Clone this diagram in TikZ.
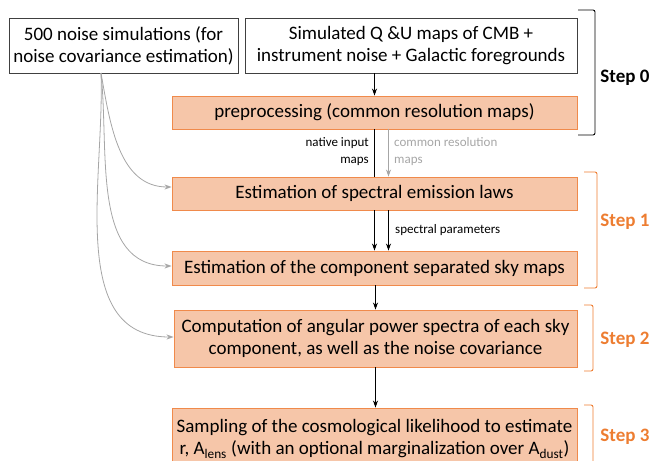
\documentclass[tikz,border=0pt]{standalone}
\usepackage{fontspec}
\setmainfont{Carlito}
\usetikzlibrary{calc}
\usetikzlibrary{arrows, arrows.meta}

\definecolor{boxfill}{HTML}{F6C6A9}
\definecolor{boxline}{HTML}{F08A4B}
\definecolor{steporange}{HTML}{ED7D31}
\definecolor{softgray}{HTML}{A6A6A6}

\tikzset{
	plainbox/.style={draw=black!75, line width=0.9pt, inner sep=0pt, align=center,
		font=\fontsize{19}{22}\selectfont},
	orangebox/.style={draw=boxline, fill=boxfill, line width=0.9pt, inner sep=0pt, align=center,
		font=\fontsize{19}{22}\selectfont},
	smalllabel/.style={font=\fontsize{13}{17}\selectfont, inner sep=0pt},
	steplabel/.style={font=\fontsize{19}{20}\selectfont\bfseries, inner sep=0pt},
	arr/.style={-{Stealth[length=7pt,width=5pt]}, line width=0.8pt},
}

\begin{document}
\begin{tikzpicture}[x=1pt, y=-1pt]
	\useasboundingbox (0,0) rectangle (654,461);
	
	%input boxes
	\node[plainbox, minimum width=229, minimum height=55] (noise) at (123.5,45.5)
		{500 noise simulations (for\\noise covariance estimation)};
	\node[plainbox, minimum width=332, minimum height=55] (sims) at (411,45.5)
		{Simulated Q \&U maps of CMB +\\instrument noise + Galactic foregrounds};
	
	%pipeline boxes
	\node[orangebox, minimum width=405, minimum height=33] (prep) at (374.5,112.5)
		{preprocessing (common resolution maps)};
	\node[orangebox, minimum width=405, minimum height=33] (laws) at (374.5,193.5)
		{Estimation of spectral emission laws};
	\node[orangebox, minimum width=405, minimum height=34] (sky) at (374.5,268)
		{Estimation of the component separated sky maps};
	\node[orangebox, minimum width=403, minimum height=57] (spectra) at (375.5,338.5)
		{Computation of angular power spectra of each sky\\component, as well as the noise covariance};
	\node[orangebox, minimum width=405, minimum height=62] (like) at (374.5,439)
		{Sampling of the cosmological likelihood to estimate\\r, A\textsubscript{lens} (with an optional marginalization over A\textsubscript{dust})};
	
	%vertical arrows
	\draw[arr] (prep.north |- sims.south) -- (prep.north);
	\draw[line width=0.8pt] (prep.south) -- (laws.north);
	\draw[arr, softgray] ([xshift=14]prep.south) -- ([xshift=14]laws.north);
	\draw[arr] (laws.south) -- (sky.north);
	\draw[arr] ([xshift=14]laws.south) -- ([xshift=14]sky.north);
	\draw[arr] (sky.south -| spectra.north) -- (spectra.north);
	\draw[arr] (spectra.south) -- (spectra.south |- like.north);
	
	%labels on arrows
	\node[smalllabel, anchor=east, align=right] (native) at (369,152) {native input\\maps};
	\node[smalllabel, anchor=west, align=left, text=softgray] (common) at (394,152) {common resolution\\maps};
	\node[smalllabel, anchor=west] (params) at (395,230) {spectral parameters};
	
	%noise curves
	\coordinate (start) at (101,73);
	\draw[arr, softgray] (start) to[out=-80, in=180] (laws.west |- 0,187);
	\draw[arr, softgray] (start) to[out=-84, in=180] (sky.west |- 0,266);
	\draw[arr, softgray] (start) to[out=-88, in=180] (spectra.west |- 0,337);
	
	%brackets
	\draw[line width=0.9pt, rounded corners=2pt] (578,10) -- (595,10) -- (595,135) -- (578,135);
		\node[steplabel] (step0) at (625,78) {Step 0};
	\draw[steporange, line width=0.9pt, rounded corners=2pt] (584,172) -- (597,172) -- (597,288) -- (584,288);
		\node[steplabel, text=steporange] (step1) at (625,222) {Step 1};
	\draw[steporange, line width=0.9pt, rounded corners=2pt] (584,305) -- (593,305) -- (593,371) -- (584,371);
		\node[steplabel, text=steporange] (step2) at (625,340) {Step 2};
	\draw[steporange, line width=0.9pt, rounded corners=2pt] (584,405) -- (593,405) -- (593,470);
		\node[steplabel, text=steporange] (step3) at (625,437) {Step 3};
\end{tikzpicture}
\end{document}
